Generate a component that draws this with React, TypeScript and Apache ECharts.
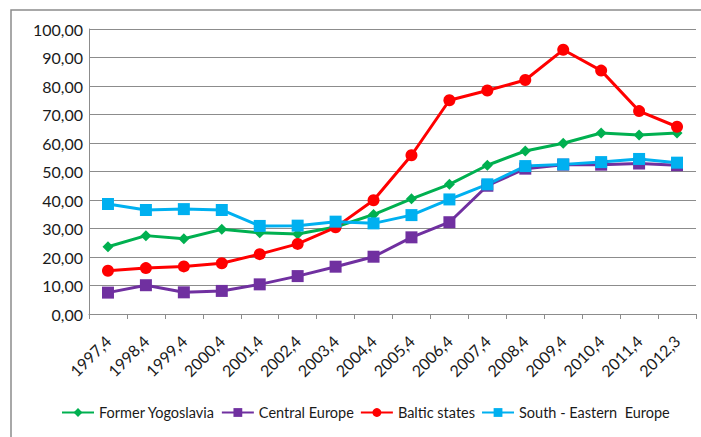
import React, { useEffect, useRef } from "react";
import * as echarts from "echarts";

const categories = ["1997,4","1998,4","1999,4","2000,4","2001,4","2002,4","2003,4","2004,4","2005,4","2006,4","2007,4","2008,4","2009,4","2010,4","2011,4","2012,3"];
const formerYugoslavia = [23.6,27.5,26.4,29.7,28.5,28.1,30.5,34.9,40.4,45.5,52.2,57.2,59.9,63.5,62.8,63.5];
const centralEurope = [7.5,10.1,7.6,8.1,10.4,13.3,16.6,20.1,26.9,32.2,45.0,51.0,52.4,52.4,52.8,52.2];
const balticStates = [15.2,16.1,16.7,17.8,21.0,24.6,30.4,39.9,55.7,75.0,78.4,82.1,92.7,85.4,71.2,65.7];
const southEastern = [38.6,36.5,36.8,36.5,30.9,31.0,32.4,31.8,34.7,40.2,45.5,51.9,52.5,53.3,54.4,53.1];

const FONT = "Lato, 'Open Sans', sans-serif";

export default function App() {
  const ref = useRef<HTMLDivElement>(null);
  useEffect(() => {
    if (!ref.current) return;
    const chart = echarts.init(ref.current, undefined, { renderer: "svg" });
    const mk = (name: string, data: number[], color: string, symbol: string, size: number) => ({
      name, type: "line", data, symbol, symbolSize: size,
      lineStyle: { color, width: 3 }, itemStyle: { color },
    });
    chart.setOption({
      animation: false,
      textStyle: { fontFamily: FONT },
      graphic: [{
        type: "rect", shape: { x: 11, y: 10, width: 720, height: 460 },
        style: { fill: "none", stroke: "#8c8c8c", lineWidth: 1.5 }, silent: true,
      }],
      grid: { left: 89, right: 5, top: 29, bottom: 123 },
      xAxis: {
        type: "category", data: categories, boundaryGap: true,
        axisLine: { lineStyle: { color: "#8c8c8c", width: 1 } },
        axisTick: { show: true, length: 5, lineStyle: { color: "#8c8c8c" } },
        axisLabel: { rotate: 45, margin: 24, fontSize: 16, color: "#1a1a1a", fontFamily: FONT, interval: 0 },
      },
      yAxis: {
        type: "value", min: 0, max: 100, interval: 10,
        axisLine: { show: true, lineStyle: { color: "#8c8c8c" } },
        axisTick: { show: false },
        splitLine: { lineStyle: { color: "#8c8c8c", width: 1 } },
        axisLabel: { margin: 6, fontSize: 16, color: "#1a1a1a", fontFamily: FONT,
          formatter: (v: number) => v.toFixed(2).replace(".", ",") },
      },
      legend: {
        bottom: 12, left: 56, itemWidth: 32, itemHeight: 11, itemGap: 6,
        textStyle: { fontSize: 14.5, color: "#1a1a1a", fontFamily: FONT },
        data: ["Former Yogoslavia", "Central Europe", "Baltic states", "South - Eastern  Europe"],
      },
      series: [
        mk("Former Yogoslavia", formerYugoslavia, "#00B050", "diamond", 11),
        mk("Central Europe", centralEurope, "#7030A0", "rect", 12),
        mk("Baltic states", balticStates, "#FF0000", "circle", 12),
        mk("South - Eastern  Europe", southEastern, "#00B0F0", "rect", 12),
      ],
    });
    return () => chart.dispose();
  }, []);
  return <div ref={ref} style={{ width: 701, height: 437, position: "absolute", left: 0, top: 0 }} />;
}
